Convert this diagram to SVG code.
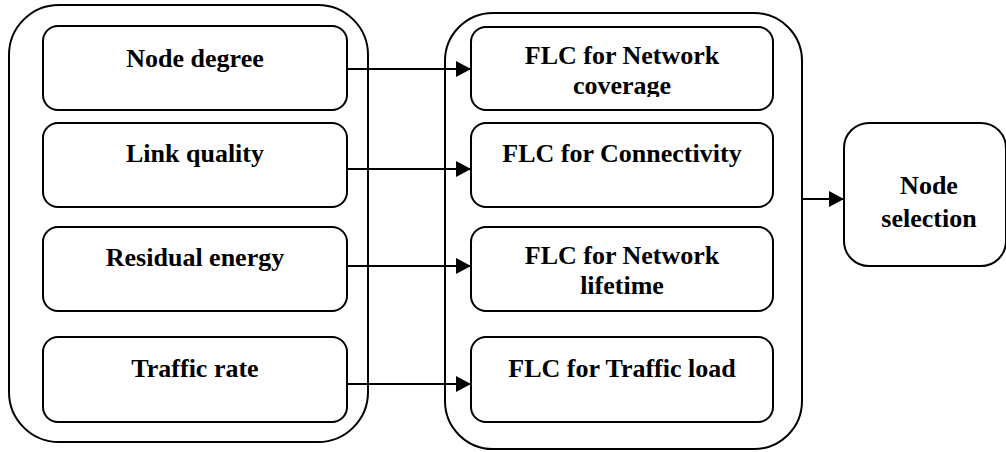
<svg xmlns="http://www.w3.org/2000/svg" width="1006" height="452" viewBox="0 0 1006 452">
<style>
.box{fill:#fff;stroke:#000;stroke-width:2}
.outer{fill:none;stroke:#000;stroke-width:2}
.t{font-family:'Liberation Serif','Times New Roman',Times,serif;font-weight:700;font-size:26px;fill:#000;text-anchor:middle}
.c{stroke:#000;stroke-width:2.2;fill:none}
</style>
<defs>
<marker id="ah" markerWidth="16" markerHeight="16" refX="15" refY="8" orient="auto" markerUnits="userSpaceOnUse">
<path d="M0,0 L15,8 L0,16 Z" fill="#000"/>
</marker>
<clipPath id="clip1"><rect x="471" y="27" width="302" height="70"/></clipPath>
</defs>
<g id="left-group">
<rect class="outer" x="9" y="5" width="359" height="437" rx="50" ry="50"/>
</g>
<g id="middle-group">
<rect class="outer" x="445" y="13" width="357" height="436" rx="48" ry="48"/>
</g>
<g id="connectors">
<line class="c" x1="347" y1="69" x2="471" y2="69" marker-end="url(#ah)"/>
<line class="c" x1="347" y1="169" x2="471" y2="169" marker-end="url(#ah)"/>
<line class="c" x1="347" y1="266" x2="471" y2="266" marker-end="url(#ah)"/>
<line class="c" x1="347" y1="384" x2="471" y2="384" marker-end="url(#ah)"/>
<line class="c" x1="802" y1="199" x2="844" y2="199" marker-end="url(#ah)"/>
</g>
<g id="node-degree">
<rect class="box" x="43" y="26" width="304" height="84" rx="15"/>
<text class="t" x="195" y="67" font-family="Liberation Serif">Node degree</text>
</g>
<g id="link-quality">
<rect class="box" x="43" y="123" width="304" height="84" rx="15"/>
<text class="t" x="195" y="162">Link quality</text>
</g>
<g id="residual-energy">
<rect class="box" x="43" y="227" width="304" height="84" rx="15"/>
<text class="t" x="195" y="266">Residual energy</text>
</g>
<g id="traffic-rate">
<rect class="box" x="43" y="337" width="304" height="85" rx="15"/>
<text class="t" x="195" y="377">Traffic rate</text>
</g>
<g id="flc-coverage">
<rect class="box" x="471" y="27" width="302" height="83" rx="15"/>
<g clip-path="url(#clip1)">
<text class="t" x="622" y="64">FLC for Network</text>
<text class="t" x="622" y="94">coverage</text>
</g>
</g>
<g id="flc-connectivity">
<rect class="box" x="471" y="123" width="302" height="84" rx="15"/>
<text class="t" x="622" y="162">FLC for Connectivity</text>
</g>
<g id="flc-lifetime">
<rect class="box" x="471" y="227" width="302" height="84" rx="15"/>
<text class="t" x="622" y="264">FLC for Network</text>
<text class="t" x="622" y="294">lifetime</text>
</g>
<g id="flc-traffic">
<rect class="box" x="471" y="337" width="302" height="85" rx="15"/>
<text class="t" x="622" y="377">FLC for Traffic load</text>
</g>
<g id="node-selection">
<rect class="box" x="844" y="123" width="162" height="143" rx="25"/>
<text class="t" x="929" y="194">Node</text>
<text class="t" x="929" y="227">selection</text>
</g>
</svg>
